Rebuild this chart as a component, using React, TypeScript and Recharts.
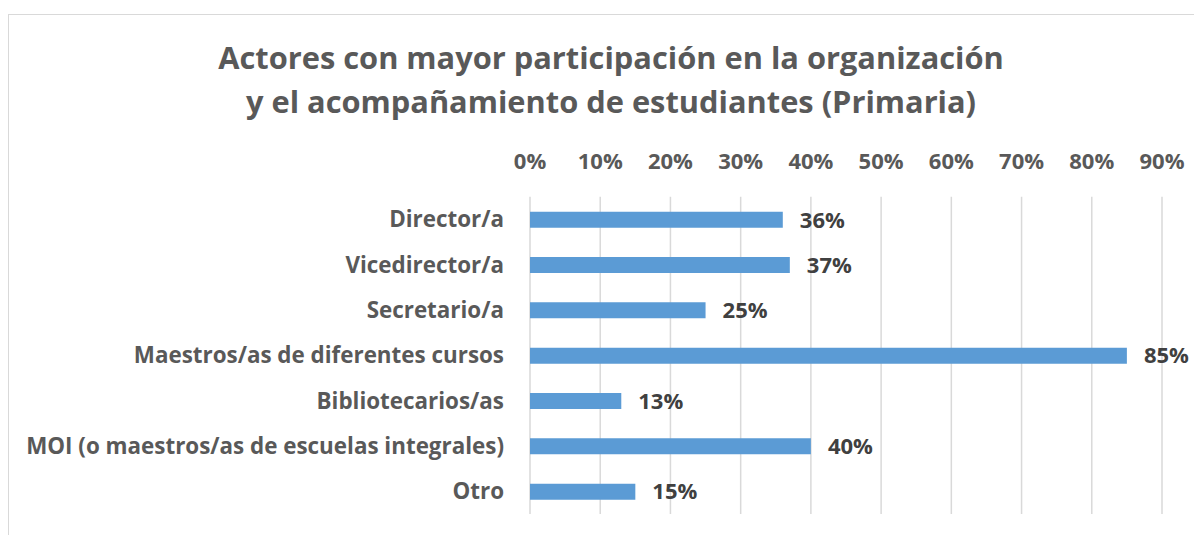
import React from 'react';
import {Bar, BarChart, CartesianGrid, LabelList, XAxis, YAxis} from 'recharts';

const categories = [
    'Director/a',
    'Vicedirector/a',
    'Secretario/a',
    'Maestros/as de diferentes cursos',
    'Bibliotecarios/as',
    'MOI (o maestros/as de escuelas integrales)',
    'Otro',
];
const shares = [0.36, 0.37, 0.25, 0.85, 0.13, 0.40, 0.15];
const axisTicks = [0, 0.1, 0.2, 0.3, 0.4, 0.5, 0.6, 0.7, 0.8, 0.9];

const chartData = categories.map((name, i) => ({name, value: shares[i]}));

const pct = (v: number) => `${Math.round(v * 100)}%`;

const FONT = '"Open Sans", sans-serif';

export default function App() {
    return (
        <div style={{position: 'relative', width: 1194, height: 527, overflow: 'hidden', fontFamily: FONT}}>
            <div style={{
                position: 'absolute', left: 0, top: 6, width: 1300, height: 600,
                borderTop: '1px solid #d9d9d9', borderLeft: '1px solid #d9d9d9'
            }}/>
            <div style={{
                position: 'absolute', left: 103, top: 27, width: 1000, textAlign: 'center',
                fontSize: 30.8, fontWeight: 700, lineHeight: '44px', color: '#595959'
            }}>
                Actores con mayor participación en la organización<br/>
                y el acompañamiento de estudiantes (Primaria)
            </div>
            <div style={{position: 'absolute', left: 0, top: 0}}>
                <BarChart
                    width={1194}
                    height={527}
                    data={chartData}
                    layout="vertical"
                    margin={{top: 148.7, right: 40, bottom: 21, left: 0}}
                >
                    <CartesianGrid horizontal={false} stroke="#d9d9d9" strokeWidth={1.5}/>
                    <XAxis
                        type="number"
                        orientation="top"
                        domain={[0, 0.9]}
                        ticks={axisTicks}
                        tickFormatter={pct}
                        axisLine={false}
                        tickLine={false}
                        tickMargin={22}
                        height={40}
                        tick={{fill: '#595959', fontSize: 22, fontWeight: 700, fontFamily: FONT}}
                    />
                    <YAxis
                        type="category"
                        dataKey="name"
                        width={522}
                        axisLine={false}
                        tickLine={false}
                        tickMargin={20}
                        interval={0}
                        tick={{fill: '#595959', fontSize: 22.4, fontWeight: 700, fontFamily: FONT}}
                    />
                    <Bar dataKey="value" fill="#5b9bd5" barSize={16} isAnimationActive={false}>
                        <LabelList
                            dataKey="value"
                            position="right"
                            offset={17}
                            formatter={(v: any) => pct(Number(v))}
                            fill="#404040"
                            fontSize={22}
                            fontWeight={700}
                            fontFamily={FONT}
                        />
                    </Bar>
                </BarChart>
            </div>
        </div>
    );
}
